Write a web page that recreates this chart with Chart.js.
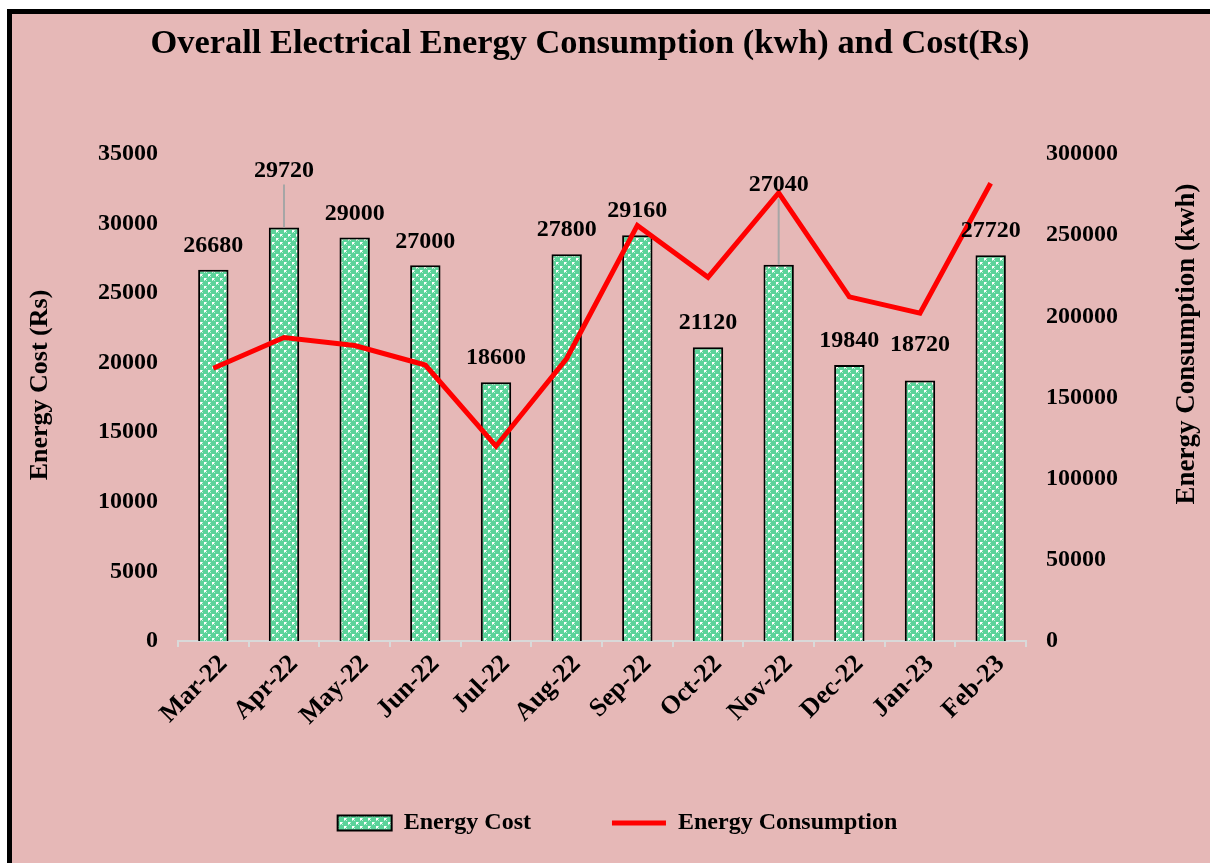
<!DOCTYPE html>
<html>
<head>
<meta charset="utf-8">
<script src="https://cdn.jsdelivr.net/npm/chart.js@4.4.1/dist/chart.umd.min.js"></script>
<style>
  html, body { margin: 0; padding: 0; background: #ffffff; }
  #frame {
    position: absolute; left: 7px; top: 9px;
    width: 1203px; height: 854px;
    box-sizing: border-box;
    border-left: 5px solid #000; border-top: 5px solid #000;
    background: #E6B8B7;
  }
  #chart { display: block; }
</style>
</head>
<body>
<div id="frame"><canvas id="chart" width="1198" height="849"></canvas></div>
<script>
  // data
  var months = ['Mar-22', 'Apr-22', 'May-22', 'Jun-22', 'Jul-22', 'Aug-22', 'Sep-22', 'Oct-22', 'Nov-22', 'Dec-22', 'Jan-23', 'Feb-23'];
  var energyCost = [26680, 29720, 29000, 27000, 18600, 27800, 29160, 21120, 27040, 19840, 18720, 27720];
  var energyConsumption = [168000, 187000, 182000, 170000, 120000, 174000, 256000, 224000, 276000, 212000, 202000, 282000];
  var costTicks = [0, 5000, 10000, 15000, 20000, 25000, 30000, 35000];
  var kwhTicks = [0, 50000, 100000, 150000, 200000, 250000, 300000];

  // extra lift (px) of some value labels, like the hand placed ones in the original
  var labelLift = [0, 33, 0, 0, 0, 0, 0, 0, 56, 0, 12, 0];
  var leaderLine = [false, true, false, false, false, false, false, false, true, false, false, false];

  var serif = "'Liberation Serif', 'Times New Roman', serif";

  // green dotted fill like the Excel pattern
  function makePattern() {
    var c = document.createElement('canvas');
    c.width = 8; c.height = 8;
    var g = c.getContext('2d');
    g.fillStyle = '#5BD39A';
    g.fillRect(0, 0, 8, 8);
    g.fillStyle = '#ffffff';
    g.fillRect(0, 0, 2, 2);
    g.fillRect(4, 4, 2, 2);
    g.fillStyle = '#C4F0DA';
    g.fillRect(2, 0, 1, 1); g.fillRect(0, 2, 1, 1);
    g.fillRect(6, 4, 1, 1); g.fillRect(4, 6, 1, 1);
    g.fillRect(2, 2, 1, 1); g.fillRect(6, 6, 1, 1);
    return g.createPattern(c, 'repeat');
  }
  var barFill = makePattern();

  function plain(v) { return String(v); }

  var valueLabels = {
    id: 'valueLabels',
    afterDatasetsDraw: function (chart) {
      var ctx = chart.ctx;
      var meta = chart.getDatasetMeta(0);
      ctx.save();
      ctx.font = 'bold 24px ' + serif;
      ctx.textAlign = 'center';
      ctx.textBaseline = 'middle';
      meta.data.forEach(function (bar, i) {
        var y = bar.y - 24 - labelLift[i];
        if (leaderLine[i]) {
          ctx.strokeStyle = '#A6A6A6';
          ctx.lineWidth = 2;
          ctx.beginPath();
          ctx.moveTo(bar.x, y + 14);
          ctx.lineTo(bar.x, bar.y);
          ctx.stroke();
        }
        ctx.fillStyle = '#000';
        ctx.fillText(plain(energyCost[i]), bar.x, y);
      });
      ctx.restore();
    }
  };

  // chart title and both axis titles (the right one reads bottom to top)
  var titles = {
    id: 'titles',
    afterDraw: function (chart) {
      var ctx = chart.ctx;
      ctx.save();
      ctx.fillStyle = '#000';
      ctx.textAlign = 'center';
      ctx.textBaseline = 'middle';
      ctx.font = 'bold 34.4px ' + serif;
      ctx.fillText('Overall Electrical Energy Consumption (kwh) and Cost(Rs)', 578, 30);
      ctx.font = 'bold 26px ' + serif;
      ctx.translate(28, 371);
      ctx.rotate(-Math.PI / 2);
      ctx.fillText('Energy Cost (Rs)', 0, 0);
      ctx.restore();
      ctx.save();
      ctx.font = 'bold 27px ' + serif;
      ctx.fillStyle = '#000';
      ctx.textAlign = 'center';
      ctx.textBaseline = 'middle';
      ctx.translate(1175, 330);
      ctx.rotate(-Math.PI / 2);
      ctx.fillText('Energy Consumption (kwh)', 0, 0);
      ctx.restore();
    }
  };

  var ctx = document.getElementById('chart').getContext('2d');
  new Chart(ctx, {
    data: {
      labels: months,
      datasets: [{
        type: 'bar',
        label: 'Energy Cost',
        data: energyCost,
        yAxisID: 'y',
        backgroundColor: barFill,
        borderColor: '#000000',
        borderWidth: 2,
        barPercentage: 0.43,
        categoryPercentage: 1,
        pointStyle: 'rect',
        order: 1
      }, {
        type: 'line',
        label: 'Energy Consumption',
        data: energyConsumption,
        yAxisID: 'y1',
        borderColor: '#FF0000',
        backgroundColor: '#FF0000',
        borderWidth: 5,
        pointRadius: 0,
        tension: 0,
        pointStyle: 'line',
        order: 0
      }]
    },
    options: {
      responsive: false,
      animation: false,
      layout: { padding: { left: 13, right: 0, top: 140, bottom: 18 } },
      scales: {
        x: {
          grid: { display: true, drawOnChartArea: false, color: '#D9D9D9', lineWidth: 2, tickLength: 6, offset: true },
          border: { display: true, color: '#D9D9D9', width: 2 },
          ticks: {
            color: '#000', font: { family: serif, size: 26, weight: 'bold' },
            minRotation: 45, maxRotation: 45, autoSkip: false, padding: 2, labelOffset: 10
          },
          afterFit: function (s) { s.height = 89; }
        },
        y: {
          position: 'left',
          min: 0, max: 35000,
          afterBuildTicks: function (s) { s.ticks = costTicks.map(function (v) { return { value: v }; }); },
          grid: { display: false, drawTicks: false },
          border: { display: false },
          ticks: { color: '#000', font: { family: serif, size: 24, weight: 'bold' }, padding: 20, callback: plain },
          afterFit: function (s) { s.width = 153; }
        },
        y1: {
          position: 'right',
          min: 0, max: 300000,
          afterBuildTicks: function (s) { s.ticks = kwhTicks.map(function (v) { return { value: v }; }); },
          grid: { display: false, drawTicks: false },
          border: { display: false },
          ticks: { color: '#000', font: { family: serif, size: 24, weight: 'bold' }, padding: 20, callback: plain },
          afterFit: function (s) { s.width = 184; }
        }
      },
      plugins: {
        title: { display: false },
        legend: {
          display: true,
          position: 'bottom',
          labels: {
            color: '#000',
            font: { family: serif, size: 24, weight: 'bold' },
            usePointStyle: true,
            pointStyleWidth: 54,
            boxHeight: 15,
            padding: 81,
            sort: function (a, b) { return a.datasetIndex - b.datasetIndex; }
          }
        },
        tooltip: { enabled: false }
      }
    },
    plugins: [valueLabels, titles]
  });
</script>
</body>
</html>
